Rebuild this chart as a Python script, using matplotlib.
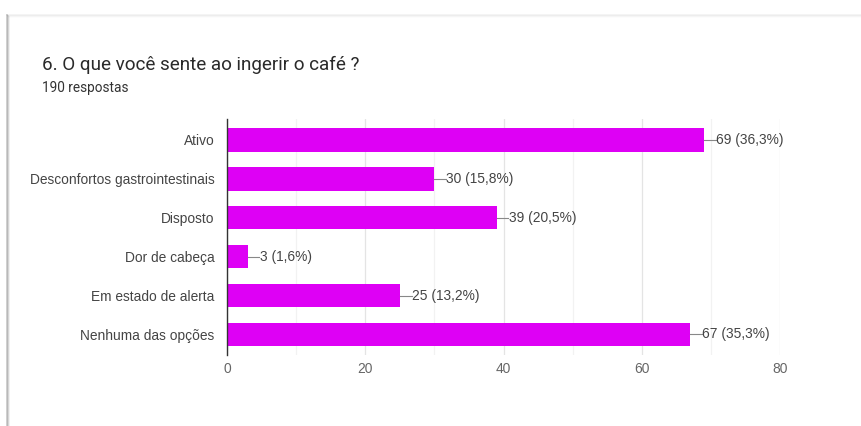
import matplotlib
matplotlib.use("Agg")
import matplotlib.pyplot as plt
from matplotlib.ticker import MultipleLocator

categories = [
    "Ativo",
    "Desconfortos gastrointestinais",
    "Disposto",
    "Dor de cabeça",
    "Em estado de alerta",
    "Nenhuma das opções",
]
counts = [69, 30, 39, 3, 25, 67]
percents = ["36,3", "15,8", "20,5", "1,6", "13,2", "35,3"]
x_ticks = [0, 20, 40, 60, 80]

title = "6. O que você sente ao ingerir o café ?"
subtitle = "190 respostas"

bar_color = "#DE00F5"
text_color = "#444444"

plt.rcParams["font.family"] = ["Liberation Sans", "DejaVu Sans"]

W, H = 861, 426
fig = plt.figure(figsize=(W / 100, H / 100), dpi=100)
fig.patch.set_facecolor("white")

# card outline with a soft shadow on the top and left edges
for i, a in enumerate([0.10, 0.06, 0.03]):
    fig.add_artist(plt.Line2D([(7 + i) / W, (7 + i) / W], [0, 1 - (15 + i) / H],
                              color="black", alpha=a * 2.2, lw=1.2,
                              transform=fig.transFigure))
    fig.add_artist(plt.Line2D([(7 + i) / W, 1], [1 - (15 + i) / H, 1 - (15 + i) / H],
                              color="black", alpha=a * 0.5, lw=1.2,
                              transform=fig.transFigure))

fig.text(42 / W, 1 - 65 / H, title, fontsize=13.6, color="#2a2a2a", va="center",
         ha="left", family=["Roboto", "DejaVu Sans"])
fig.text(42 / W, 1 - 88 / H, subtitle, fontsize=9.8, color="#333333", va="center",
         ha="left", family=["Roboto", "DejaVu Sans"])

ax = fig.add_axes([227 / W, 1 - 355 / H, (780 - 227) / W, (355 - 119) / H])
ypos = list(range(len(categories)))
ax.barh(ypos, counts, height=0.6, color=bar_color, zorder=3)

ax.set_xlim(0, 80)
ax.set_ylim(len(categories) - 0.47, -0.54)
ax.set_yticks(ypos)
ax.set_yticklabels(categories, fontsize=9.9, color=text_color)
ax.set_xticks(x_ticks)
ax.set_xticklabels([str(t) for t in x_ticks], fontsize=9.9, color="#666666")
ax.xaxis.set_minor_locator(MultipleLocator(10))
ax.tick_params(axis="both", which="both", length=0)
ax.tick_params(axis="x", pad=5)
ax.tick_params(axis="y", pad=9)

ax.grid(axis="x", which="major", color="#e4e4e4", lw=0.9, zorder=0)
ax.grid(axis="x", which="minor", color="#f2f2f2", lw=0.9, zorder=0)
for s in ["top", "right", "bottom"]:
    ax.spines[s].set_visible(False)
ax.spines["left"].set_color("#333333")
ax.spines["left"].set_linewidth(1.0)
ax.spines["left"].set_zorder(4)

for y, c, p in zip(ypos, counts, percents):
    ax.plot([c, c + 1.7], [y, y], color="#888888", lw=0.8, zorder=3)
    ax.text(c + 1.75, y, f"{c} ({p}%)", fontsize=9.9, color=text_color,
            va="center", ha="left", zorder=4)

fig.savefig("out.png", dpi=100, facecolor="white")
